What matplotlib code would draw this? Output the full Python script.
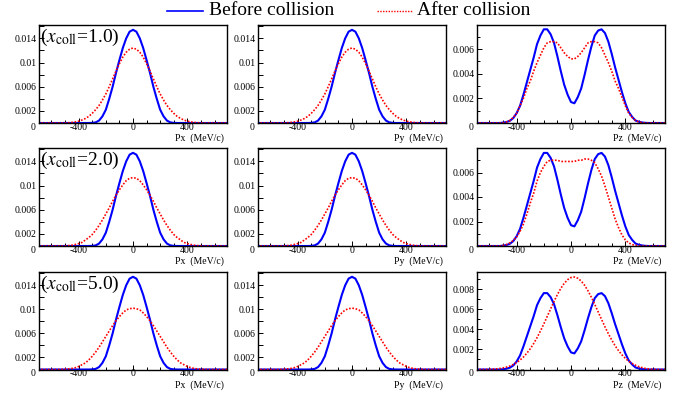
import numpy as np
import matplotlib
matplotlib.use("Agg")
import matplotlib.pyplot as plt
from matplotlib.lines import Line2D

plt.rcParams['font.family'] = ['Liberation Serif', 'DejaVu Serif']
plt.rcParams['mathtext.fontset'] = 'stix'

# ---------------- data ----------------
# momentum grid (MeV/c), bin centres
P_GRID = np.arange(-700, 725, 25)

blue_pxy = [
    0, 0, 0, 0, 0, 0, 0, 0, 0, 0, 0, 0, 0, 0, 0, 0,
    0.00002, 0.0001, 0.0004, 0.0011, 0.0022, 0.0040, 0.0060, 0.0083, 0.0104, 0.0124, 0.0140, 0.0151,
    0.0154,
    0.0151, 0.0140, 0.0124, 0.0104, 0.0083, 0.0060, 0.0040, 0.0022, 0.0011, 0.0004, 0.0001, 0.00002,
    0, 0, 0, 0, 0, 0, 0, 0, 0, 0, 0, 0, 0, 0, 0, 0,
]

red_pxy_1 = [
    0, 0, 0, 0, 0, 0, 0, 0,
    0.00002, 0.00005, 0.0001, 0.00018, 0.0003, 0.0005, 0.00075, 0.0011, 0.0016, 0.0022,
    0.0029, 0.0038, 0.0048, 0.0060, 0.0073, 0.0086, 0.0098, 0.0109, 0.0117, 0.0122,
    0.0124,
    0.0122, 0.0117, 0.0109, 0.0098, 0.0086, 0.0073, 0.0060, 0.0048, 0.0038, 0.0029,
    0.0022, 0.0016, 0.0011, 0.00075, 0.0005, 0.0003, 0.00018, 0.0001, 0.00005, 0.00002,
    0, 0, 0, 0, 0, 0, 0, 0,
]

red_pxy_2 = [
    0, 0, 0, 0, 0, 0, 0, 0,
    0.00002, 0.00006, 0.00013, 0.00025, 0.0004, 0.0006, 0.0010, 0.0014, 0.0019, 0.0026,
    0.0034, 0.0043, 0.0053, 0.0063, 0.0074, 0.0084, 0.0093, 0.0101, 0.0108, 0.0112,
    0.0113,
    0.0112, 0.0108, 0.0101, 0.0093, 0.0084, 0.0074, 0.0063, 0.0053, 0.0043, 0.0034,
    0.0026, 0.0019, 0.0014, 0.0010, 0.0006, 0.0004, 0.00025, 0.00013, 0.00006, 0.00002,
    0, 0, 0, 0, 0, 0, 0, 0,
]

red_pxy_3 = [
    0, 0, 0, 0, 0, 0, 0,
    0.00002, 0.00005, 0.0001, 0.00018, 0.0003, 0.0005, 0.0008, 0.0011, 0.0016, 0.0022,
    0.0029, 0.0037, 0.0046, 0.0055, 0.0064, 0.0073, 0.0081, 0.0088, 0.0094, 0.0099, 0.0101,
    0.0102,
    0.0101, 0.0099, 0.0094, 0.0088, 0.0081, 0.0073, 0.0064, 0.0055, 0.0046, 0.0037,
    0.0029, 0.0022, 0.0016, 0.0011, 0.0008, 0.0005, 0.0003, 0.00018, 0.0001, 0.00005, 0.00002,
    0, 0, 0, 0, 0, 0, 0,
]

blue_pz = [
    0, 0, 0, 0, 0, 0, 0, 0,
    0.00003, 0.00008, 0.00018, 0.0004, 0.0008, 0.0014, 0.0023, 0.0033, 0.0043, 0.0053,
    0.0064, 0.0071, 0.0076, 0.0076, 0.0072, 0.0065, 0.0054, 0.0042, 0.0031, 0.0023,
    0.0017,
    0.0016, 0.0021, 0.0028, 0.0039, 0.0051, 0.0062, 0.0071, 0.0075, 0.0076, 0.0073,
    0.0066, 0.0056, 0.0045, 0.0035, 0.0025, 0.0016, 0.0009, 0.0005, 0.0002, 0.0001,
    0.00004, 0.00001,
    0, 0, 0, 0, 0, 0,
]

red_pz_1 = [
    0, 0, 0, 0, 0, 0, 0, 0,
    0.00002, 0.00008, 0.0002, 0.00045, 0.0008, 0.0014, 0.0020, 0.0028, 0.0034, 0.0042,
    0.0049, 0.0055, 0.0061, 0.0065, 0.0066, 0.0066, 0.0065, 0.0061, 0.0057, 0.0054,
    0.0052,
    0.0052, 0.0054, 0.0057, 0.0061, 0.0065, 0.0066, 0.0066, 0.0065, 0.0061, 0.0055,
    0.0049, 0.0042, 0.0034, 0.0028, 0.0021, 0.0014, 0.0008, 0.00045, 0.0002, 0.00008,
    0.00002,
    0, 0, 0, 0, 0, 0, 0,
]

red_pz_2 = [
    0, 0, 0, 0, 0, 0, 0, 0,
    0.00005, 0.00012, 0.00025, 0.00045, 0.00075, 0.0012, 0.0018, 0.0026, 0.0035, 0.0043,
    0.0053, 0.0060, 0.0065, 0.0069, 0.0070, 0.0070, 0.0070, 0.0069, 0.0069, 0.0069,
    0.0069,
    0.0069, 0.0070, 0.0070, 0.0071, 0.0071, 0.0070, 0.0068, 0.0063, 0.0057, 0.0049,
    0.0040, 0.0031, 0.0022, 0.0015, 0.0009, 0.0005, 0.00025, 0.00012, 0.00005, 0.00002,
    0, 0, 0, 0, 0, 0, 0, 0,
]

red_pz_3 = [
    0, 0, 0, 0,
    0.00002, 0.00004, 0.00006, 0.0001, 0.00016, 0.00024, 0.00034, 0.0005, 0.0007, 0.00094,
    0.00124, 0.00162, 0.00206, 0.00258, 0.00317, 0.00383, 0.00454, 0.00528, 0.00603,
    0.00677, 0.00746, 0.00807, 0.00857, 0.00893,
    0.00915,
    0.0092, 0.00908, 0.0088, 0.00838, 0.00783, 0.00719, 0.00648, 0.00573, 0.00498,
    0.00425, 0.00356, 0.00293, 0.00236, 0.00187, 0.00146, 0.00111, 0.00082, 0.0006,
    0.00042, 0.00028, 0.00018, 0.0001, 0.00005, 0.00002,
    0, 0, 0, 0,
]

red_pxy = [red_pxy_1, red_pxy_2, red_pxy_3]
red_pz = [red_pz_1, red_pz_2, red_pz_3]
xcoll_values = ['1.0', '2.0', '5.0']
axis_names = ['Px', 'Py', 'Pz']
legend_labels = ['Before collision', 'After collision']

x_major = [-400, 0, 400]
x_major_labels = ['-400', '0', '400']
x_minor = [-600, -500, -300, -200, -100, 100, 200, 300, 500, 600]

pxy_ytick_vals = [0.002, 0.006, 0.01, 0.014]
pxy_ytick_labels = ['0.002', '0.006', '0.01', '0.014']
pxy_yminor = [0.004, 0.008, 0.012, 0.016]
pxy_ymax = 0.0162

pz_ytick_vals = [[0.002, 0.004, 0.006], [0.002, 0.004, 0.006], [0.002, 0.004, 0.006, 0.008]]
pz_ytick_labels = [['0.002', '0.004', '0.006'], ['0.002', '0.004', '0.006'],
                   ['0.002', '0.004', '0.006', '0.008']]
pz_yminor = [[0.001, 0.003, 0.005, 0.007], [0.001, 0.003, 0.005, 0.007],
             [0.001, 0.003, 0.005, 0.007, 0.009]]
pz_ymax = [0.00795, 0.0080, 0.0097]

# ---------------- layout ----------------
W, H = 685, 398
fig = plt.figure(figsize=(W / 100, H / 100), dpi=100)

col_left = [39, 258, 477]
col_w = 188
row_top = [25, 148, 272]
row_bot = [123, 246, 369.5]

BLUE = '#0000ff'
RED = '#ff0000'

for r in range(3):
    for c in range(3):
        ax = fig.add_axes([col_left[c] / W, 1 - row_bot[r] / H, col_w / W,
                           (row_bot[r] - row_top[r]) / H])
        if c < 2:
            yb, yr = blue_pxy, red_pxy[r]
        else:
            yb, yr = blue_pz, red_pz[r]
        ax.plot(P_GRID, yb, color=BLUE, lw=1.5, solid_joinstyle='round')
        ax.plot(P_GRID, yr, color=RED, lw=1.2, linestyle=(0, (1, 1)))
        ax.set_xlim(-692, 692)
        if c < 2:
            ax.set_ylim(0, pxy_ymax)
            ax.set_yticks(pxy_ytick_vals, pxy_ytick_labels)
            ax.set_yticks(pxy_yminor, minor=True)
            ax.tick_params(axis='y', which='minor', length=3.6)
        else:
            ax.set_ylim(0, pz_ymax[r])
            ax.set_yticks(pz_ytick_vals[r], pz_ytick_labels[r])
            ax.set_yticks(pz_yminor[r], minor=True)
            ax.tick_params(axis='y', which='minor', length=2.2)
        ax.set_xticks(x_major, x_major_labels)
        ax.set_xticks(x_minor, minor=True)
        ax.tick_params(axis='both', which='both', direction='in', labelsize=7,
                       top=False, right=False, width=0.7)
        ax.tick_params(axis='y', which='major', length=3.6, pad=1.5)
        ax.tick_params(axis='x', which='major', length=3.6, pad=0.0)
        ax.tick_params(axis='x', which='minor', length=2.2)
        for s in ax.spines.values():
            s.set_linewidth(1.0)
        # y "0" label at the corner
        ax.annotate('0', xy=(0, 0), xycoords='axes fraction', xytext=(-2.2, -3.0),
                    textcoords='offset points', ha='right', va='center', fontsize=7)
        # axis title
        ax.annotate(axis_names[c] + '  (MeV/c)', xy=(1, 0), xycoords='axes fraction',
                    xytext=(-2.5, -11), textcoords='offset points', ha='right',
                    va='center', fontsize=7)
        if c == 0:
            ax.annotate(r'($x_{\mathrm{coll}}$=' + xcoll_values[r] + ')', xy=(0, 1),
                        xycoords='axes fraction', xytext=(0.5, -1.5),
                        textcoords='offset points', ha='left', va='top', fontsize=14)

# legend
def fx(px):
    return px / W

def fy(py):
    return 1 - py / H

fig.add_artist(Line2D([fx(167), fx(203)], [fy(10.7), fy(10.7)], color=BLUE, lw=1.2,
                      transform=fig.transFigure))
fig.text(fx(209), fy(10.5), legend_labels[0], fontsize=14, ha='left', va='center')
fig.add_artist(Line2D([fx(377), fx(412)], [fy(10.7), fy(10.7)], color=RED, lw=1.0,
                      linestyle=(0, (1, 1)), transform=fig.transFigure))
fig.text(fx(417), fy(10.5), legend_labels[1], fontsize=14, ha='left', va='center')

fig.savefig('out.png', dpi=100)
